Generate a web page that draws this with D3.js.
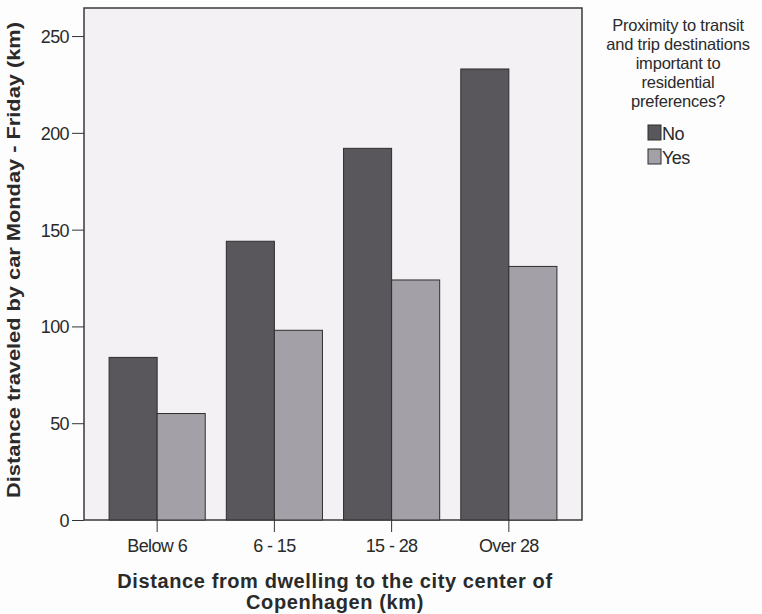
<!DOCTYPE html>
<html>
<head>
<meta charset="utf-8">
<script src="https://cdn.jsdelivr.net/npm/d3@7"></script>
<style>
    body { margin: 0; background: #fdfdfd; }
    svg text { font-family: "Liberation Sans", Arial, sans-serif; fill: #2a2a2a; }
    .axis path, .axis line { stroke: #333; }
    .axis text { font-size: 18px; letter-spacing: -0.6px; }
</style>
</head>
<body>
<svg id="chart"></svg>
<script>
const categories = ['Below 6', '6 - 15', '15 - 28', 'Over 28'];
const groups = ['No', 'Yes'];
const noValues = [84, 144, 192, 233];
const yesValues = [55, 98, 124, 131];
const yTicks = [0, 50, 100, 150, 200, 250];
const legendTitle = ['Proximity to transit', 'and trip destinations', 'important to', 'residential', 'preferences?'];

const fullWidth = 762;
const fullHeight = 614;
const margin = {top: 8, right: 180, bottom: 94, left: 84};
const width = fullWidth - margin.left - margin.right;
const height = fullHeight - margin.top - margin.bottom;

const colors = {No: '#59575b', Yes: '#a4a0a7'};

const data = categories.map((c, i) => ({category: c, No: noValues[i], Yes: yesValues[i]}));

const svg = d3.select('#chart')
    .attr('width', fullWidth)
    .attr('height', fullHeight);

const g = svg.append('g')
    .attr('transform', `translate(${margin.left}, ${margin.top})`);

const xScale = d3.scaleBand()
    .domain(categories)
    .range([0, width])
    .paddingInner(0.18)
    .paddingOuter(0.214);

const xInner = d3.scaleBand()
    .domain(groups)
    .range([0, xScale.bandwidth()]);

const yScale = d3.scaleLinear()
    .domain([0, 264.5])
    .range([height, 0]);

g.append('rect')
    .attr('width', width)
    .attr('height', height)
    .attr('fill', '#f3f1f3')
    .attr('stroke', '#3a3a3a')
    .attr('stroke-width', 1.5);

const category = g.selectAll('.category').data(data)
    .enter().append('g')
    .attr('class', 'category')
    .attr('transform', d => `translate(${xScale(d.category)}, 0)`);

category.selectAll('rect')
    .data(d => groups.map(key => ({key, value: d[key]})))
    .enter().append('rect')
    .attr('x', d => xInner(d.key))
    .attr('y', d => yScale(d.value))
    .attr('width', xInner.bandwidth())
    .attr('height', d => height - yScale(d.value))
    .attr('fill', d => colors[d.key])
    .attr('stroke', '#2e2e2e')
    .attr('stroke-width', 1);

const xAxis = d3.axisBottom(xScale).tickSize(12).tickSizeOuter(0);
const yAxis = d3.axisLeft(yScale).tickValues(yTicks).tickSize(12).tickSizeOuter(0);

const gXAxis = g.append('g')
    .attr('class', 'axis axis--x')
    .attr('transform', `translate(0, ${height})`)
    .call(xAxis);
gXAxis.select('.domain').remove();
gXAxis.selectAll('text').attr('y', 32).attr('dy', 0).attr('fill', '#333');

const gYAxis = g.append('g')
    .attr('class', 'axis axis--y')
    .call(yAxis);
gYAxis.select('.domain').remove();
gYAxis.selectAll('text').attr('x', -15).attr('dy', '0.36em').attr('fill', '#555');

g.append('text')
    .attr('transform', `translate(-64, ${height / 2 - 4}) rotate(-90)`)
    .attr('text-anchor', 'middle')
    .attr('textLength', 476)
    .attr('lengthAdjust', 'spacingAndGlyphs')
    .style('font-size', '19px')
    .style('font-weight', 'bold')
    .text('Distance traveled by car Monday - Friday (km)');

const xTitle = g.append('text')
    .attr('text-anchor', 'middle')
    .style('font-size', '20px')
    .style('font-weight', 'bold')
    .style('letter-spacing', '0.6px');
xTitle.append('tspan')
    .attr('x', width / 2 + 2)
    .attr('y', height + 68)
    .text('Distance from dwelling to the city center of');
xTitle.append('tspan')
    .attr('x', width / 2 + 2)
    .attr('y', height + 89)
    .text('Copenhagen (km)');

const legend = svg.append('g')
    .attr('transform', `translate(${fullWidth - 84}, 0)`);

legend.selectAll('.legend-title').data(legendTitle)
    .enter().append('text')
    .attr('class', 'legend-title')
    .attr('text-anchor', 'middle')
    .attr('y', (d, i) => 31 + i * 19)
    .style('font-size', '16.5px')
    .style('letter-spacing', '-0.2px')
    .text(d => d);

const item = legend.selectAll('.legend-item').data(groups)
    .enter().append('g')
    .attr('class', 'legend-item')
    .attr('transform', (d, i) => `translate(-30, ${125 + i * 24})`);

item.append('rect')
    .attr('width', 13)
    .attr('height', 15)
    .attr('fill', d => colors[d])
    .attr('stroke', '#2e2e2e');

item.append('text')
    .attr('x', 14)
    .attr('y', 15)
    .style('font-size', '18px')
    .style('letter-spacing', '-0.6px')
    .text(d => d);
</script>
</body>
</html>
